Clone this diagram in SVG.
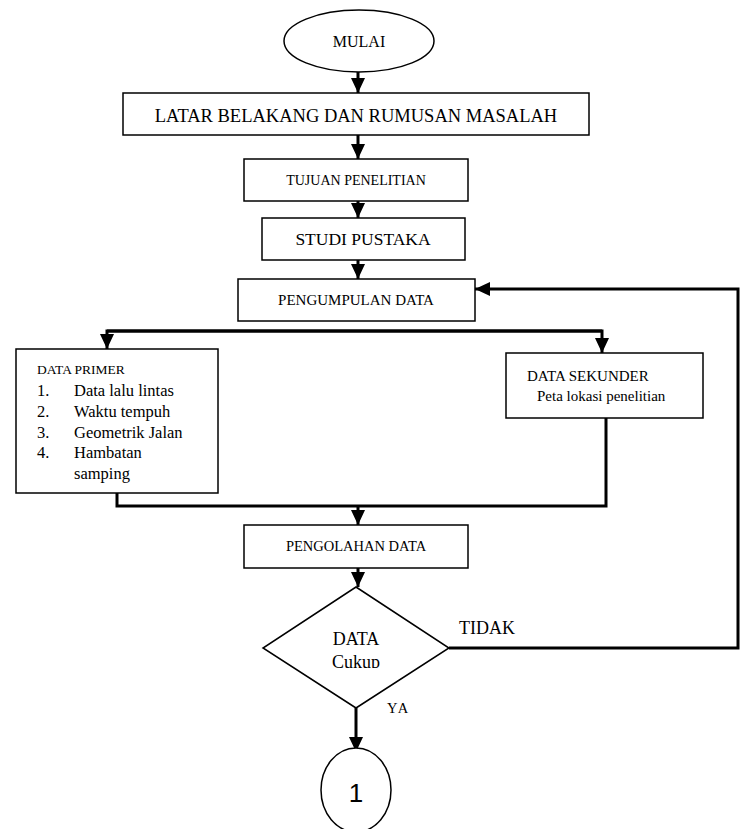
<svg xmlns="http://www.w3.org/2000/svg" width="740" height="829" viewBox="0 0 740 829">
<style>
.box{fill:#fff;stroke:#000;stroke-width:1.5}
.t{font-family:"Liberation Serif","Times New Roman",serif;fill:#000}
.c{fill:none;stroke:#000;stroke-width:3}
</style>
<defs>
<marker id="ah" markerUnits="userSpaceOnUse" markerWidth="15" markerHeight="14" refX="15" refY="7" orient="auto"><path d="M0,0 L15,7 L0,14 z" fill="#000"/></marker>
<clipPath id="cuk"><rect x="300" y="640" width="120" height="28"/></clipPath>
</defs>
<rect width="740" height="829" fill="#fff"/>
<g id="connectors">
<path class="c" d="M358,72 V93" marker-end="url(#ah)"/>
<path class="c" d="M358,135 V159" marker-end="url(#ah)"/>
<path class="c" d="M358,201 V218" marker-end="url(#ah)"/>
<path class="c" d="M358,260 V279" marker-end="url(#ah)"/>
<path class="c" d="M602,331 H107 V349" marker-end="url(#ah)"/>
<path class="c" d="M107,331 H602 V353" marker-end="url(#ah)"/>
<path class="c" d="M117,493 V506 H606 V418"/>
<path class="c" d="M358,506 V525" marker-end="url(#ah)"/>
<path class="c" d="M358,568 V587" marker-end="url(#ah)"/>
<path class="c" d="M449,648 H738 V289 H475" marker-end="url(#ah)"/>
<path class="c" d="M356,708 V752" marker-end="url(#ah)"/>
</g>
<g id="mulai"><ellipse cx="359" cy="41" rx="75" ry="31" class="box" stroke-width="1.3"/><text class="t" x="359" y="47" font-size="16" text-anchor="middle">MULAI</text></g>
<g id="latar"><rect class="box" x="123" y="93" width="466" height="42"/><text class="t" x="356" y="122" font-size="18.5" text-anchor="middle">LATAR BELAKANG DAN RUMUSAN MASALAH</text></g>
<g id="tujuan"><rect class="box" x="244" y="159" width="224" height="42"/><text class="t" x="356" y="185" font-size="14" text-anchor="middle">TUJUAN PENELITIAN</text></g>
<g id="studi"><rect class="box" x="262" y="218" width="203" height="42"/><text class="t" x="363" y="245" font-size="17.5" text-anchor="middle">STUDI PUSTAKA</text></g>
<g id="pengumpulan"><rect class="box" x="238" y="279" width="237" height="42"/><text class="t" x="356" y="305" font-size="15" text-anchor="middle">PENGUMPULAN DATA</text></g>
<g id="primer"><rect class="box" x="16" y="349" width="202" height="144"/>
<text class="t" x="37" y="374" font-size="13.5">DATA PRIMER</text>
<g font-size="16.5" class="t">
<text class="t" x="37" y="396">1.</text><text class="t" x="74" y="396">Data lalu lintas</text>
<text class="t" x="37" y="417">2.</text><text class="t" x="74" y="417">Waktu tempuh</text>
<text class="t" x="37" y="438">3.</text><text class="t" x="74" y="438">Geometrik Jalan</text>
<text class="t" x="37" y="458">4.</text><text class="t" x="74" y="458">Hambatan</text>
<text class="t" x="74" y="479">samping</text>
</g></g>
<g id="sekunder"><rect class="box" x="506" y="353" width="197" height="65"/>
<text class="t" x="527" y="381" font-size="15">DATA SEKUNDER</text>
<text class="t" x="537" y="401" font-size="15">Peta lokasi penelitian</text></g>
<g id="pengolahan"><rect class="box" x="244" y="525" width="224" height="43"/><text class="t" x="356" y="551" font-size="14.5" text-anchor="middle">PENGOLAHAN DATA</text></g>
<g id="cukup"><polygon class="box" points="356,587 449,648 356,708 263,648"/>
<text class="t" x="356" y="645" font-size="18" text-anchor="middle">DATA</text>
<text class="t" x="356" y="668" font-size="18" text-anchor="middle" clip-path="url(#cuk)">Cukup</text></g>
<text class="t" x="459" y="634" font-size="18">TIDAK</text>
<text class="t" x="387" y="713" font-size="14.5" letter-spacing="2">YA</text>
<g id="konektor1"><ellipse class="box" cx="356" cy="790" rx="35" ry="42" stroke-width="1.3"/><text x="356" y="802" font-family="Liberation Sans, Arial, sans-serif" font-size="26" text-anchor="middle">1</text></g>
</svg>
